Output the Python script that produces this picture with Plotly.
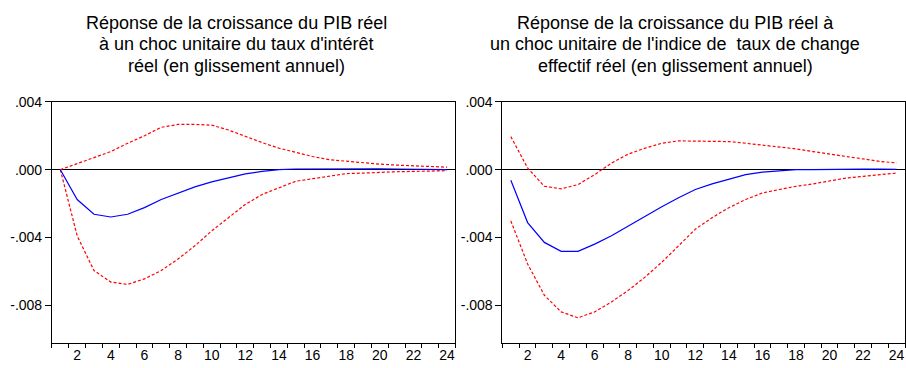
import plotly.graph_objects as go

periods = list(range(1, 25))

# Left panel: response to real interest rate shock
left_resp = [0.0, -0.00176, -0.00263, -0.00279, -0.00263, -0.00224, -0.00176, -0.00137,
             -0.00101, -0.00072, -0.00049, -0.00025, -0.00010, 0.00000, 0.00004, 0.00005,
             0.00005, 0.00005, 0.00005, 0.00005, 0.00004, 0.00004, 0.00001, 0.00000]
left_upper = [0.0, 0.00035, 0.00068, 0.00107, 0.00156, 0.00200, 0.00250, 0.00267,
              0.00267, 0.00263, 0.00234, 0.00195, 0.00160, 0.00127, 0.00103, 0.00078,
              0.00059, 0.00049, 0.00039, 0.00033, 0.00027, 0.00023, 0.00020, 0.00015]
left_lower = [0.0, -0.00390, -0.00595, -0.00663, -0.00677, -0.00644, -0.00595, -0.00527,
              -0.00449, -0.00361, -0.00283, -0.00205, -0.00146, -0.00107, -0.00068, -0.00053,
              -0.00039, -0.00023, -0.00020, -0.00015, -0.00012, -0.00010, -0.00008, -0.00006]

# Right panel: response to real effective exchange rate shock
right_resp = [-0.00062, -0.00312, -0.00429, -0.00482, -0.00482, -0.00439, -0.00390, -0.00332,
              -0.00273, -0.00219, -0.00166, -0.00117, -0.00084, -0.00055, -0.00029, -0.00014,
              -0.00006, 0.00000, 0.00001, 0.00003, 0.00003, 0.00003, 0.00003, 0.00002]
right_upper = [0.00195, 0.00010, -0.00098, -0.00113, -0.00088, -0.00029, 0.00039, 0.00092,
               0.00127, 0.00156, 0.00170, 0.00170, 0.00170, 0.00166, 0.00156, 0.00146,
               0.00137, 0.00123, 0.00107, 0.00092, 0.00078, 0.00064, 0.00049, 0.00040]
right_lower = [-0.00302, -0.00556, -0.00741, -0.00839, -0.00874, -0.00839, -0.00780, -0.00712,
               -0.00634, -0.00546, -0.00449, -0.00351, -0.00283, -0.00224, -0.00176, -0.00137,
               -0.00117, -0.00098, -0.00084, -0.00068, -0.00049, -0.00039, -0.00029, -0.00020]

ytick_vals = [0.004, 0.0, -0.004, -0.008]
ytick_text = [".004", ".000", "-.004", "-.008"]
xtick_vals = list(range(2, 25, 2))
xtick_text = [str(v) for v in xtick_vals]

left_title = ["Réponse de la croissance du PIB réel",
              "à un choc unitaire du taux d'intérêt",
              "réel (en glissement annuel)"]
right_title = ["Réponse de la croissance du PIB réel à",
               "un choc unitaire de l'indice de\u00a0 taux de change",
               "effectif réel (en glissement annuel)"]

FONT = "Liberation Sans, Arial, sans-serif"
RED = "#FF0000"
BLUE = "#0000FF"

fig = go.Figure()

panels = [
    ("x", "y", left_resp, left_upper, left_lower),
    ("x2", "y2", right_resp, right_upper, right_lower),
]
for xa, ya, resp, up, lo in panels:
    for series in (up, lo):
        fig.add_trace(go.Scatter(x=periods, y=series, xaxis=xa, yaxis=ya, mode="lines",
                                 line=dict(color=RED, width=1.2, dash="3px,2px"),
                                 showlegend=False, hoverinfo="skip"))
    fig.add_trace(go.Scatter(x=periods, y=resp, xaxis=xa, yaxis=ya, mode="lines",
                             line=dict(color=BLUE, width=1.2),
                             showlegend=False, hoverinfo="skip"))

W, H = 906, 368
def px(v):
    return v / W
def py(v):
    return 1 - v / H

xcommon = dict(range=[0.5, 24.5], tickmode="array", tickvals=xtick_vals, ticktext=xtick_text,
               ticks="", showgrid=False, zeroline=False, showline=True, linecolor="black",
               linewidth=1, mirror=True, tickfont=dict(family=FONT, size=14, color="black"),
               minor=dict(tick0=0.5, dtick=1, ticks="outside", ticklen=4, tickcolor="black",
                          tickwidth=1, showgrid=False))
ycommon = dict(range=[-0.0102, 0.004], tickmode="array", tickvals=ytick_vals, ticktext=ytick_text,
               ticks="outside", ticklen=6, tickcolor="black", showgrid=False, zeroline=True,
               zerolinecolor="black", zerolinewidth=1, showline=True, linecolor="black",
               linewidth=1, mirror=True, tickfont=dict(family=FONT, size=14, color="black"))

fig.update_layout(
    width=W, height=H,
    margin=dict(l=0, r=0, t=0, b=0),
    paper_bgcolor="white", plot_bgcolor="white",
    xaxis=dict(domain=[px(52), px(456)], anchor="y", **xcommon),
    yaxis=dict(domain=[py(342), py(96)], anchor="x", **ycommon),
    xaxis2=dict(domain=[px(503), px(906)], anchor="y2", **xcommon),
    yaxis2=dict(domain=[py(342), py(96)], anchor="x2", **ycommon),
)

for cx, lines in zip([237, 676], [left_title, right_title]):
    for i, line in enumerate(lines):
        fig.add_annotation(x=px(cx), y=py(15 + 22 * i), xref="paper", yref="paper", text=line,
                           showarrow=False, xanchor="center", yanchor="middle", align="center",
                           font=dict(family=FONT, size=18, color="black"))

fig.write_html("out.html")
